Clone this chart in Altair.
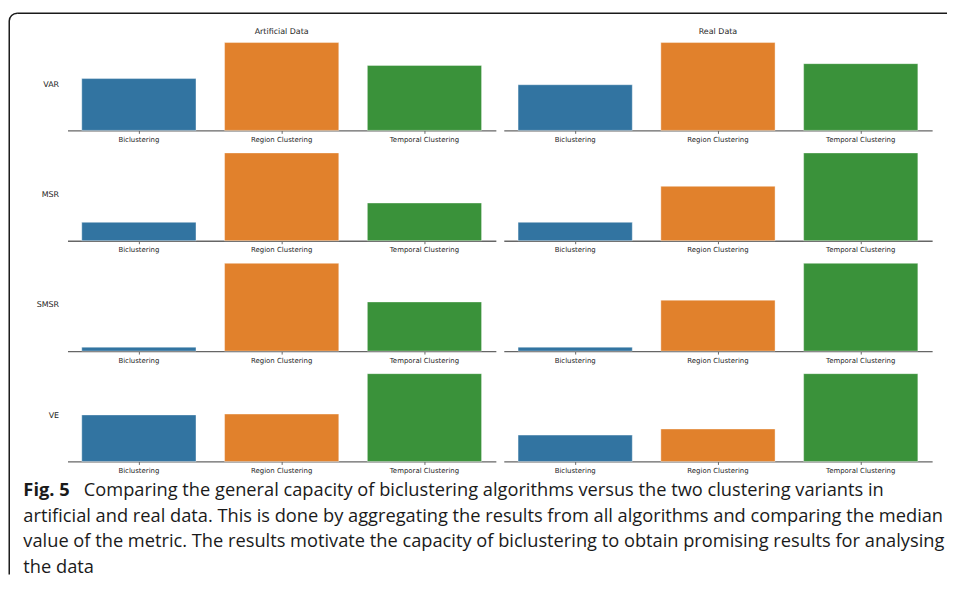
import altair as alt
import pandas as pd

metrics = ["VAR", "MSR", "SMSR", "VE"]
datasets = ["Artificial Data", "Real Data"]
methods = ["Biclustering", "Region Clustering", "Temporal Clustering"]
colors = ["#3274a1", "#e1812c", "#3a923a"]

# median metric value per method, relative to the largest bar of each panel
var_art = [0.59, 1.00, 0.74]
var_real = [0.52, 1.00, 0.76]
msr_art = [0.21, 1.00, 0.43]
msr_real = [0.21, 0.62, 1.00]
smsr_art = [0.045, 1.00, 0.56]
smsr_real = [0.045, 0.58, 1.00]
ve_art = [0.53, 0.54, 1.00]
ve_real = [0.30, 0.37, 1.00]

values = {
    ("VAR", "Artificial Data"): var_art, ("VAR", "Real Data"): var_real,
    ("MSR", "Artificial Data"): msr_art, ("MSR", "Real Data"): msr_real,
    ("SMSR", "Artificial Data"): smsr_art, ("SMSR", "Real Data"): smsr_real,
    ("VE", "Artificial Data"): ve_art, ("VE", "Real Data"): ve_real,
}

caption_bold = "Fig. 5"
caption_first = "Comparing the general capacity of biclustering algorithms versus the two clustering variants in"
caption_rest = [
    "artificial and real data. This is done by aggregating the results from all algorithms and comparing the median",
    "value of the metric. The results motivate the capacity of biclustering to obtain promising results for analysing",
    "the data",
]

W, H = 432, 93
ROW_GAP = 18.3
SMALL = "DejaVu Sans"
CAP_FONT = "Open Sans"
CAP_SIZE = 18.4
PX0, PY0 = 67.5, 36.0              # page position of the first panel
BOTTOM_TOP = PY0 + 3 * (H + ROW_GAP)  # page y of last-row panel top
FRAME_X, FRAME_Y, FRAME_R = 8.75, 10.75, 8.0
PAGE_RIGHT, PAGE_BOTTOM = 954.5, 577.0
CAP_Y0, CAP_STEP = 498.0, 25.8
INK = "#1a1a1a"


def panel(metric, ds, ri, ci):
    df = pd.DataFrame({"method": methods, "value": values[(metric, ds)]})
    if ci == 0:
        yaxis = alt.Axis(labels=False, ticks=False, domain=False, grid=False,
                         title=metric, titleAngle=0, titleAlign="right",
                         titleBaseline="middle", titleX=-9, titleY=H / 2,
                         titleFont=SMALL, titleFontSize=8, titleFontWeight="normal",
                         titleColor="#262626")
    else:
        yaxis = None
    bars = alt.Chart(df).mark_bar(stroke="white", strokeWidth=0.4).encode(
        x=alt.X("method:N", sort=methods,
                scale=alt.Scale(paddingInner=0.2, paddingOuter=0.1),
                axis=alt.Axis(title=None, labelAngle=0, labelFont=SMALL, labelFontSize=7,
                              labelColor="#262626", tickSize=3, tickColor="#444",
                              tickWidth=0.8, domainColor="#666", domainWidth=1.3,
                              labelPadding=2, grid=False)),
        y=alt.Y("value:Q", scale=alt.Scale(domain=[0, 1.05], nice=False, zero=True),
                axis=yaxis),
        color=alt.Color("method:N", scale=alt.Scale(domain=methods, range=colors),
                        legend=None),
    )
    layers = [bars]
    one = pd.DataFrame({"k": [0]})
    if ri == 0:
        title = alt.Chart(one).mark_text(text=ds, font=SMALL, fontSize=8,
                                         color="#262626", align="center",
                                         baseline="middle").encode(
            x=alt.value(W / 2), y=alt.value(29.5 - PY0))
        layers.append(title)
    if ri == 0 and ci == 0:
        top_line = alt.Chart(one).mark_rule(color=INK, strokeWidth=1.5).encode(
            x=alt.value(FRAME_X + FRAME_R - PX0), x2=alt.value(PAGE_RIGHT - PX0),
            y=alt.value(FRAME_Y - PY0))
        left_line = alt.Chart(one).mark_rule(color=INK, strokeWidth=1.5).encode(
            x=alt.value(FRAME_X - PX0),
            y=alt.value(FRAME_Y + FRAME_R - PY0), y2=alt.value(PAGE_BOTTOM - PY0))
        corner = alt.Chart(one).mark_arc(color=INK, radius=FRAME_R + 0.75,
                                         radius2=FRAME_R - 0.75,
                                         theta=4.712389, theta2=6.283185).encode(
            x=alt.value(FRAME_X + FRAME_R - PX0), y=alt.value(FRAME_Y + FRAME_R - PY0))
        layers += [top_line, left_line, corner]
    if ri == 3 and ci == 0:
        t1 = alt.Chart(one).mark_text(text=caption_bold, font=CAP_FONT, fontSize=CAP_SIZE,
                                      fontWeight="bold", align="left",
                                      baseline="alphabetic", color=INK).encode(
            x=alt.value(23 - PX0), y=alt.value(CAP_Y0 - BOTTOM_TOP))
        t2 = alt.Chart(one).mark_text(text=caption_first, font=CAP_FONT, fontSize=CAP_SIZE,
                                      align="left", baseline="alphabetic",
                                      color=INK).encode(
            x=alt.value(84 - PX0), y=alt.value(CAP_Y0 - BOTTOM_TOP))
        t3 = alt.Chart(one).mark_text(text=caption_rest, font=CAP_FONT, fontSize=CAP_SIZE,
                                      align="left", baseline="alphabetic",
                                      lineHeight=CAP_STEP, color=INK).encode(
            x=alt.value(23 - PX0), y=alt.value(CAP_Y0 + CAP_STEP - BOTTOM_TOP))
        layers += [t1, t2, t3]
    return alt.layer(*layers).properties(width=W, height=H)


panels = [panel(m, ds, ri, ci)
          for ri, m in enumerate(metrics)
          for ci, ds in enumerate(datasets)]

chart = alt.concat(*panels, columns=2, spacing={"row": ROW_GAP, "column": 8},
                   bounds="flush").properties(
    padding={"top": 2, "left": 0, "right": 0, "bottom": 0},
    background="white",
).configure_view(strokeWidth=0)

chart.save("out.html", embed_options={"renderer": "svg", "actions": False})
